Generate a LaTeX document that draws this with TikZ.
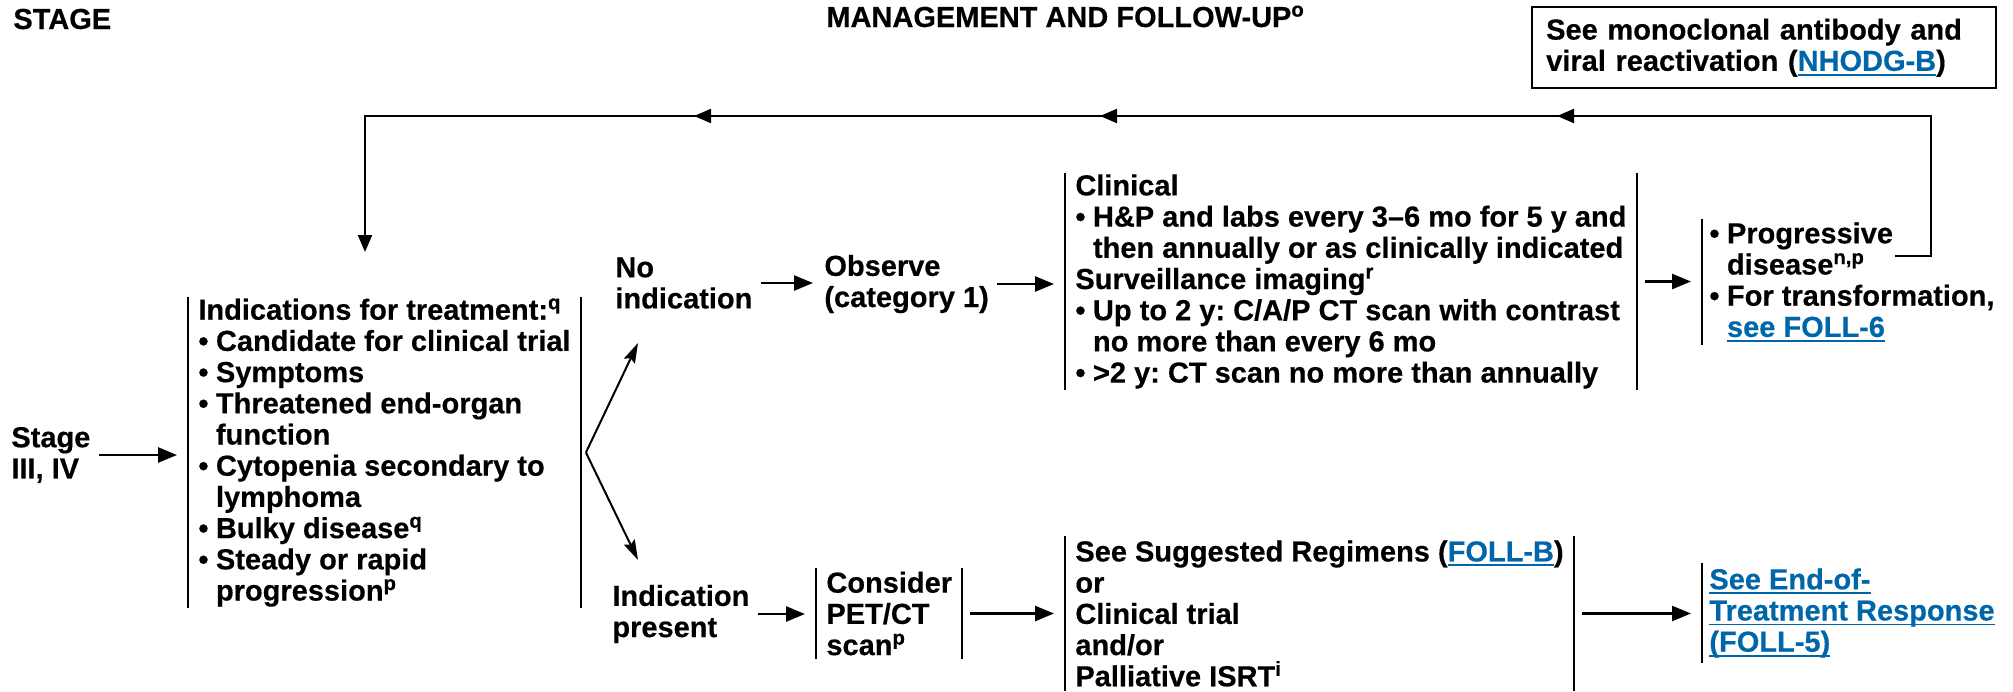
\documentclass[tikz,border=0pt]{standalone}
\usepackage{fontspec}
\setmainfont{Liberation Sans}[BoldFeatures={FakeBold=0.4}]
\usetikzlibrary{arrows.meta}
\usetikzlibrary{decorations.markings}

\definecolor{linkblue}{RGB}{0,102,170}
\setlength{\parindent}{0pt}
\frenchspacing
\newlength{\bulw}
\setlength{\bulw}{8.8pt}
\newcommand{\bul}{\makebox[\bulw][l]{\textbullet}}
\newcommand{\hin}{\hspace*{\bulw}}
\newcommand{\lnk}[1]{\textcolor{linkblue}{\setbox0\hbox{#1}\rlap{\rule[-2.4pt]{\wd0}{0.9pt}}\box0}}
\newcommand{\nfont}{\fontsize{14.5}{15.6}\selectfont\bfseries}

\begin{document}
\begin{tikzpicture}[x=0.5pt, y=-0.5pt,
    txt/.style={inner sep=0pt, align=left, font=\nfont},
    brk/.style={txt, inner xsep=5pt, anchor=west},
    bar/.style={line width=1pt},
    arr/.style={-{Triangle[length=9.5pt,width=7.5pt]}, line width=1.3pt, shorten <=4pt, shorten >=5.5pt},
    splitarr/.style={-{Stealth[length=10pt,width=6pt,inset=1.5pt]}, line width=1pt},
    loopback/.style={-{Triangle[length=8.5pt,width=7pt]}, line width=1.1pt, postaction={decorate},
        decoration={markings,
            mark=at position 275pt with {\arrow{Triangle[length=8.5pt,width=7pt]}},
            mark=at position 503.5pt with {\arrow{Triangle[length=8.5pt,width=7pt]}},
            mark=at position 706.5pt with {\arrow{Triangle[length=8.5pt,width=7pt]}}}}]
    \useasboundingbox (0,0) rectangle (2013,691);

    % Headings
    \node[txt, anchor=base west] (stagehd) at (13,29) {STAGE};
    \node[txt, anchor=base west] (mgmthd) at (826,27) {MANAGEMENT AND FOLLOW-UP\textsuperscript{o}};
    \node[txt, draw, line width=1.2pt, anchor=north west, inner xsep=7pt, text width=218pt, minimum height=40.5pt] (mono) at (1531,6) {See monoclonal antibody and\\viral reactivation (\lnk{NHODG-B})};

    % Stage and indications
    \node[txt, anchor=west] (stage) at (11,455) {Stage\\III, IV};
    \node[brk, minimum height=155.5pt] (ind) at (188,452.5) {Indications for treatment:\textsuperscript{q}\\\bul Candidate for clinical trial\\\bul Symptoms\\\bul Threatened end-organ\\\hin function\\\bul Cytopenia secondary to\\\hin lymphoma\\\bul Bulky disease\textsuperscript{q}\\\bul Steady or rapid\\\hin progression\textsuperscript{p}};

    % No indication branch
    \node[txt, anchor=west] (noind) at (615,283) {No\\indication};
    \node[txt, anchor=west] (obs) at (824,284) {Observe\\(category 1)};
    \node[brk, minimum height=108.5pt] (clin) at (1065,281.5) {Clinical\\\bul H\&P and labs every 3–6 mo for 5 y and\\\hin then annually or as clinically indicated\\Surveillance imaging\textsuperscript{r}\\\bul Up to 2 y: C/A/P CT scan with contrast\\\hin no more than every 6 mo\\\bul >2 y: CT scan no more than annually};
    \node[brk, inner xsep=3.5pt, minimum height=63pt] (prog) at (1702,282) {\bul Progressive\\\hin disease\textsuperscript{n,p}\\\bul For transformation,\\\hin\lnk{see FOLL-6}};

    % Indication present branch
    \node[txt, anchor=west] (indp) at (612,614) {Indication\\present};
    \node[brk, minimum height=45.5pt] (cons) at (816,613.5) {Consider\\PET/CT\\scan\textsuperscript{p}};
    \node[brk, minimum height=77.5pt] (reg) at (1065,613.5) {See Suggested Regimens (\lnk{FOLL-B})\\or\\Clinical trial\\and/or\\Palliative ISRT\textsuperscript{i}};
    \node[brk, inner xsep=3.5pt, minimum height=50pt] (endr) at (1702,613) {\lnk{See End-of-}\\\lnk{Treatment Response}\\\lnk{(FOLL-5)}};

    % Side bars
    \draw[bar] (ind.north west) -- (ind.south west) (ind.north east) -- (ind.south east);
    \draw[bar] (clin.north west) -- (clin.south west) (clin.north east) -- (clin.south east);
    \draw[bar] (prog.north west) -- (prog.south west);
    \draw[bar] (cons.north west) -- (cons.south west) (cons.north east) -- (cons.south east);
    \draw[bar] (reg.north west) -- (reg.south west) (reg.north east) -- (reg.south east);
    \draw[bar] (endr.north west) -- (endr.south west);

    % Arrows
    \draw[arr] (stage.east) -- (stage.east -| ind.west);
    \coordinate (split) at ([xshift=2.5pt]ind.east);
    \coordinate (noindtip) at (638,343);
    \coordinate (indptip) at (638,560);
    \draw[splitarr] (split) -- (noindtip);
    \draw[splitarr] (split) -- (indptip);
    \draw[arr] (noind.east) -- (noind.east -| obs.west);
    \draw[arr] (obs.east) -- (obs.east -| clin.west);
    \draw[arr] (clin.east) -- (clin.east -| prog.west);
    \draw[arr] (indp.east) -- (indp.east -| cons.west);
    \draw[arr] (cons.east) -- (cons.east -| reg.west);
    \draw[arr] (reg.east) -- (reg.east -| endr.west);

    % Back to indications
    \coordinate (fbout) at (1895,256);
    \coordinate (fbtop) at (1931,116);
    \coordinate (fbin) at (365,252);
    \draw[loopback] (fbout) -| (fbtop) -- (fbtop -| fbin) -- (fbin);
\end{tikzpicture}
\end{document}
